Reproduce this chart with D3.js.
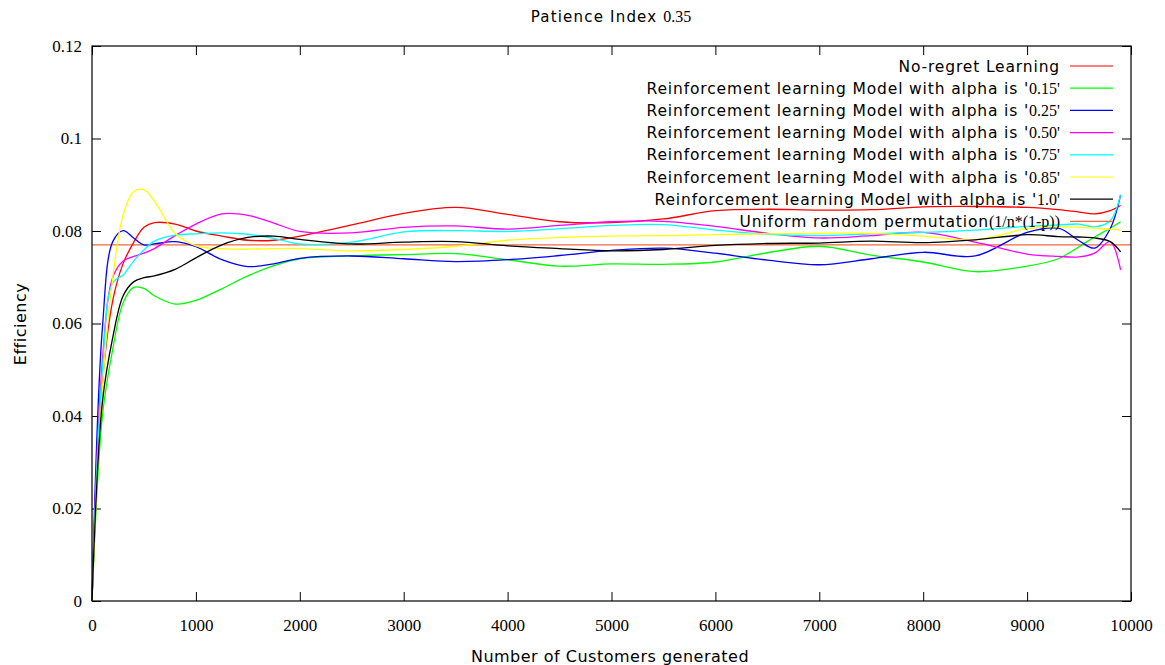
<!DOCTYPE html>
<html>
<head>
<meta charset="utf-8">
<script src="https://cdn.jsdelivr.net/npm/d3@7"></script>
<style>
  body { margin: 0; background: #fff; }
</style>
</head>
<body>
<svg id="chart" width="1165" height="665"></svg>
<script>
const SANS = "'DejaVu Sans', sans-serif";
const SERIF = "'Liberation Serif', 'Times New Roman', serif";

// Number of customers generated (x samples shared by all series)
const customers = [0, 100, 200, 300, 400, 500, 600, 800, 1000, 1250, 1500, 1750, 2000, 2500, 3000, 3500, 4000,
  4500, 5000, 5500, 6000, 6500, 7000, 7500, 8000, 8500, 9000, 9300, 9500, 9650, 9800, 9900];

// Efficiency per model
const noRegret = [0, 0.047, 0.065, 0.073, 0.0775, 0.0808, 0.0818, 0.0815, 0.0800, 0.0789, 0.0780, 0.0780, 0.0789, 0.0813, 0.0838, 0.0851, 0.0836,
  0.0820, 0.0818, 0.0826, 0.0844, 0.0847, 0.0845, 0.0846, 0.0852, 0.0853, 0.0851, 0.0846, 0.0841, 0.0837, 0.0844, 0.0855];
const alpha015 = [0, 0.040, 0.0545, 0.0645, 0.0678, 0.0676, 0.0660, 0.0642, 0.0650, 0.0675, 0.0703, 0.0725, 0.0740, 0.0746, 0.0749, 0.0751, 0.0738,
  0.0724, 0.0729, 0.0728, 0.0733, 0.0753, 0.0767, 0.0748, 0.0733, 0.0712, 0.0724, 0.0740, 0.0766, 0.0787, 0.0806, 0.0820];
const alpha025 = [0, 0.059, 0.0777, 0.0801, 0.0785, 0.0770, 0.0772, 0.0777, 0.0766, 0.0738, 0.0723, 0.0729, 0.0741, 0.0746, 0.0740, 0.0734, 0.0738,
  0.0747, 0.0758, 0.0763, 0.0752, 0.0737, 0.0727, 0.0740, 0.0754, 0.0746, 0.0797, 0.0806, 0.0779, 0.0763, 0.0805, 0.0878];
const alpha050 = [0, 0.052, 0.0700, 0.0735, 0.0745, 0.0752, 0.0762, 0.0790, 0.0815, 0.0837, 0.0834, 0.0817, 0.0799, 0.0796, 0.0808, 0.0811, 0.0804,
  0.0812, 0.0820, 0.0821, 0.0810, 0.0795, 0.0785, 0.0790, 0.0797, 0.0776, 0.0750, 0.0745, 0.0744, 0.0752, 0.0777, 0.0716];
const alpha075 = [0, 0.050, 0.0688, 0.0705, 0.0735, 0.0759, 0.0778, 0.0791, 0.0794, 0.0796, 0.0793, 0.0784, 0.0772, 0.0776, 0.0798, 0.0801, 0.0799,
  0.0805, 0.0812, 0.0814, 0.0802, 0.0793, 0.0790, 0.0794, 0.0797, 0.0802, 0.0810, 0.0813, 0.0815, 0.0809, 0.0822, 0.0878];
const alpha085 = [0, 0.046, 0.0700, 0.0835, 0.0885, 0.0889, 0.0865, 0.0795, 0.0768, 0.0762, 0.0761, 0.0762, 0.0762, 0.0757, 0.0760, 0.0767, 0.0780,
  0.0786, 0.0789, 0.0790, 0.0792, 0.0794, 0.0795, 0.0795, 0.0789, 0.0781, 0.0805, 0.0809, 0.0808, 0.0806, 0.0804, 0.0802];
const alpha100 = [0, 0.043, 0.0570, 0.0660, 0.0690, 0.0699, 0.0703, 0.0717, 0.0742, 0.0770, 0.0786, 0.0789, 0.0782, 0.0772, 0.0776, 0.0777, 0.0768,
  0.0762, 0.0757, 0.0760, 0.0769, 0.0773, 0.0774, 0.0778, 0.0775, 0.0781, 0.0792, 0.0788, 0.0787, 0.0785, 0.0777, 0.0755];
// Uniform random permutation baseline 1/n*(1-p)
const uniformLevel = 0.077;

const xTicks = [0, 1000, 2000, 3000, 4000, 5000, 6000, 7000, 8000, 9000, 10000];
const yTicks = [0, 0.02, 0.04, 0.06, 0.08, 0.1, 0.12];

const series = [
  { name: "No-regret Learning", suffix: "", values: noRegret, color: "#ff0000" },
  { name: "Reinforcement learning Model with alpha is '", suffix: "0.15'", values: alpha015, color: "#00ff00" },
  { name: "Reinforcement learning Model with alpha is '", suffix: "0.25'", values: alpha025, color: "#0000ff" },
  { name: "Reinforcement learning Model with alpha is '", suffix: "0.50'", values: alpha050, color: "#ff00ff" },
  { name: "Reinforcement learning Model with alpha is '", suffix: "0.75'", values: alpha075, color: "#00ffff" },
  { name: "Reinforcement learning Model with alpha is '", suffix: "0.85'", values: alpha085, color: "#ffff00" },
  { name: "Reinforcement learning Model with alpha is '", suffix: "1.0'", values: alpha100, color: "#000000" }
];
const uniformEntry = { name: "Uniform random permutation", suffix: "(1/n*(1-p))", color: "#f2683c" };

const svg = d3.select("#chart");
const plotLeft = 92, plotRight = 1131, plotTop = 46, plotBottom = 601;

const x = d3.scaleLinear().domain([0, 10000]).range([plotLeft, plotRight]);
const y = d3.scaleLinear().domain([0, 0.12]).range([plotBottom, plotTop]);

// Axes with inward ticks, mirrored on top and right
const tickLen = 9;
svg.append("g").attr("transform", `translate(0,${plotBottom})`)
  .call(d3.axisBottom(x).tickValues(xTicks).tickFormat(d3.format("d")).tickSizeInner(-tickLen).tickSizeOuter(0).tickPadding(18));
svg.append("g").attr("transform", `translate(${plotLeft},0)`)
  .call(d3.axisLeft(y).tickValues(yTicks).tickFormat(d => d === 0 ? "0" : String(+d.toFixed(2))).tickSizeInner(-tickLen).tickSizeOuter(0).tickPadding(10));
svg.append("g").attr("transform", `translate(0,${plotTop})`)
  .call(d3.axisTop(x).tickValues(xTicks).tickFormat("").tickSizeInner(-tickLen).tickSizeOuter(0));
svg.append("g").attr("transform", `translate(${plotRight},0)`)
  .call(d3.axisRight(y).tickValues(yTicks).tickFormat("").tickSizeInner(-tickLen).tickSizeOuter(0));

svg.selectAll(".domain").remove();
svg.selectAll(".tick line").attr("stroke", "#000").attr("stroke-width", 1);
svg.selectAll(".tick text")
  .attr("font-family", SERIF)
  .style("font-family", SERIF)
  .attr("font-size", 17)
  .attr("fill", "#000");

// Uniform baseline
svg.append("line")
  .attr("x1", x(0)).attr("x2", x(10000))
  .attr("y1", y(uniformLevel)).attr("y2", y(uniformLevel))
  .attr("stroke", uniformEntry.color).attr("stroke-width", 1.2);

// Series lines
const line = d3.line()
  .x((d, i) => x(customers[i]))
  .y(d => y(d))
  .curve(d3.curveCatmullRom.alpha(0.5));

const plot = svg.append("g");
series.forEach(s => {
  plot.append("path")
    .attr("d", line(s.values))
    .attr("fill", "none")
    .attr("stroke", s.color)
    .attr("stroke-width", 1.3);
});

// Plot border
svg.append("rect")
  .attr("x", plotLeft).attr("y", plotTop)
  .attr("width", plotRight - plotLeft).attr("height", plotBottom - plotTop)
  .attr("fill", "none").attr("stroke", "#000").attr("stroke-width", 1.2);

// Legend
const legendEntries = series.concat([uniformEntry]);
const legend = svg.append("g");
const textRight = 1060, rowStart = 66, rowGap = 22.2;
legendEntries.forEach((e, i) => {
  const yy = rowStart + i * rowGap;
  const t = legend.append("text")
    .attr("x", textRight).attr("y", yy)
    .attr("dy", "0.35em")
    .attr("text-anchor", "end")
    .attr("fill", "#000");
  t.append("tspan").style("font-family", SANS).attr("font-size", 15.5)
    .attr("letter-spacing", 0.85).text(e.name);
  if (e.suffix) t.append("tspan").style("font-family", SERIF).attr("font-size", 16).text(e.suffix);
  legend.append("line")
    .attr("x1", 1070).attr("x2", 1113)
    .attr("y1", yy).attr("y2", yy)
    .attr("stroke", e.color).attr("stroke-width", 1.2);
});

// Title
const title = svg.append("text")
  .attr("x", 611).attr("y", 16).attr("dy", "0.35em")
  .attr("text-anchor", "middle").attr("fill", "#000");
title.append("tspan").style("font-family", SANS).attr("font-size", 15)
  .attr("letter-spacing", 1.2).text("Patience Index ");
title.append("tspan").style("font-family", SERIF).attr("font-size", 16).text("0.35");

// Axis titles
svg.append("text")
  .style("font-family", SANS)
  .attr("x", 610).attr("y", 656).attr("dy", "0.35em")
  .attr("text-anchor", "middle").attr("font-size", 16).attr("letter-spacing", 0.5).attr("fill", "#000")
  .text("Number of Customers generated");
svg.append("text")
  .style("font-family", SANS)
  .attr("transform", "translate(20,324) rotate(-90)")
  .attr("dy", "0.35em")
  .attr("text-anchor", "middle").attr("font-size", 16).attr("letter-spacing", 0.5).attr("fill", "#000")
  .text("Efficiency");
</script>
</body>
</html>
